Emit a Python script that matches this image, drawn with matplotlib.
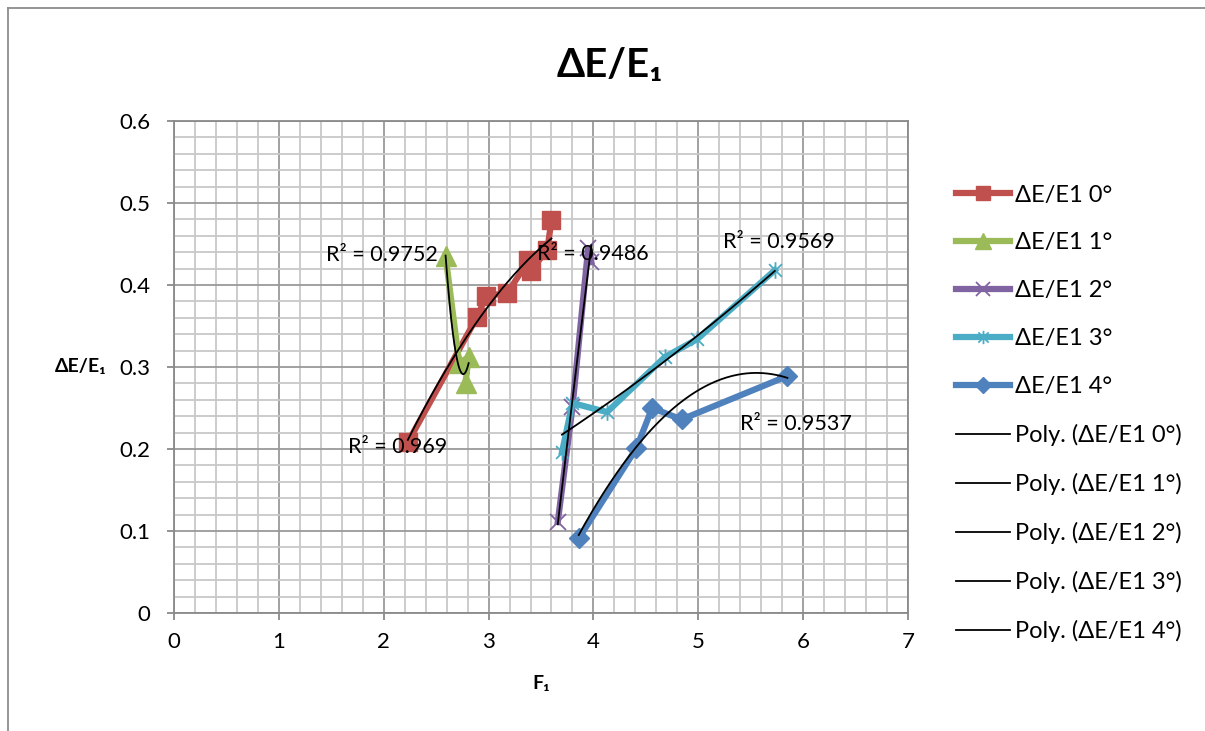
import numpy as np
import matplotlib
matplotlib.use("Agg")
import matplotlib.pyplot as plt
from matplotlib.path import Path
from matplotlib.ticker import MultipleLocator

plt.rcParams['font.family'] = ['Lato', 'DejaVu Sans']

# measured series, F1 vs dE/E1
f1_0 = [2.23, 2.89, 2.98, 3.18, 3.38, 3.40, 3.56, 3.60]
de_0 = [0.208, 0.361, 0.387, 0.390, 0.430, 0.417, 0.443, 0.479]
f1_1 = [2.59, 2.72, 2.81, 2.78]
de_1 = [0.435, 0.305, 0.312, 0.281]
f1_2 = [3.66, 3.80, 3.95, 3.98]
de_2 = [0.111, 0.251, 0.445, 0.428]
f1_3 = [3.70, 3.80, 4.13, 4.68, 4.99, 5.73]
de_3 = [0.196, 0.256, 0.245, 0.312, 0.334, 0.418]
f1_4 = [3.86, 4.41, 4.56, 4.84, 5.85]
de_4 = [0.091, 0.201, 0.250, 0.236, 0.289]

labels = ["ΔE/E1 0°", "ΔE/E1 1°", "ΔE/E1 2°", "ΔE/E1 3°", "ΔE/E1 4°"]
r2_text = ["0.969", "0.9752", "0.9486", "0.9569", "0.9537"]
r2_pos = [(2.13, 0.202), (1.98, 0.437), (3.99, 0.438), (5.77, 0.452), (5.93, 0.230)]

colors = ["#C0504D", "#9BBB59", "#8064A2", "#4BACC6", "#4F81BD"]

# excel style asterisk: an x with a vertical stroke
star = Path([(-1, -1), (1, 1), (-1, 1), (1, -1), (0, -1.3), (0, 1.3)],
            [Path.MOVETO, Path.LINETO, Path.MOVETO, Path.LINETO, Path.MOVETO, Path.LINETO])
markers = [dict(marker='s', ms=13),
           dict(marker='^', ms=14),
           dict(marker='x', ms=12, mew=1.3),
           dict(marker=star, ms=12, mew=1.3),
           dict(marker='D', ms=10)]

fig = plt.figure(figsize=(12.05, 7.31), dpi=100)
ax = fig.add_axes([174 / 1205, 1 - 613 / 731, (908 - 174) / 1205, (613 - 121) / 731])

xs = [f1_0, f1_1, f1_2, f1_3, f1_4]
ys = [de_0, de_1, de_2, de_3, de_4]

for x, y, c, m, lab in zip(xs, ys, colors, markers, labels):
    ax.plot(x, y, color=c, lw=4.5, mec=c, mfc=c, label=lab, zorder=3, **m)

# second order trend lines over each series' range
for x, y, lab in zip(xs, ys, labels):
    coef = np.polyfit(x, y, 2)
    xx = np.linspace(min(x), max(x), 200)
    ax.plot(xx, np.polyval(coef, xx), color='black', lw=1.3, zorder=4,
            label=f"Poly. ({lab})")

for t, (px, py) in zip(r2_text, r2_pos):
    ax.text(px, py, f"R² = {t}", fontsize=15.5, ha='center', va='center', zorder=5)

ax.set_xlim(0, 7)
ax.set_ylim(0, 0.6)
ax.xaxis.set_major_locator(MultipleLocator(1))
ax.xaxis.set_minor_locator(MultipleLocator(0.2))
ax.yaxis.set_major_locator(MultipleLocator(0.1))
ax.yaxis.set_minor_locator(MultipleLocator(0.02))
ax.set_yticks(np.arange(0, 0.61, 0.1))
ax.set_yticklabels(["0", "0.1", "0.2", "0.3", "0.4", "0.5", "0.6"])
ax.grid(which='major', color='#9a9a9a', lw=1.3)
ax.grid(which='minor', color='#c8c8c8', lw=1.3)
ax.set_axisbelow(True)
ax.tick_params(which='major', labelsize=16, color='#8a8a8a', length=5, width=1.3, pad=9)
ax.tick_params(axis='y', pad=12)
ax.tick_params(which='minor', length=0)
for s in ax.spines.values():
    s.set_color('#8a8a8a')
    s.set_linewidth(1.3)

ax.set_xlabel("F₁", fontsize=14, fontweight='bold', labelpad=16)
ax.set_ylabel("ΔE/E₁", fontsize=14, fontweight='bold', rotation=0, labelpad=28, va='center')
fig.text(0.506, 0.911, "ΔE/E₁", fontsize=29, fontweight='bold', ha='center', va='center')

ax.legend(loc='upper left', bbox_to_anchor=(1.052, 0.89), frameon=False, fontsize=17,
          handlelength=2.3, labelspacing=1.14, handletextpad=0.2, borderaxespad=0,
          markerscale=0.8)

# chart area border
fig.add_artist(plt.Line2D([8 / 1205, 8 / 1205], [0, 1 - 8 / 731], color='#8c8c8c', lw=1.3))
fig.add_artist(plt.Line2D([8 / 1205, 1], [1 - 8 / 731, 1 - 8 / 731], color='#8c8c8c', lw=1.3))

fig.savefig("out.png", dpi=100)
